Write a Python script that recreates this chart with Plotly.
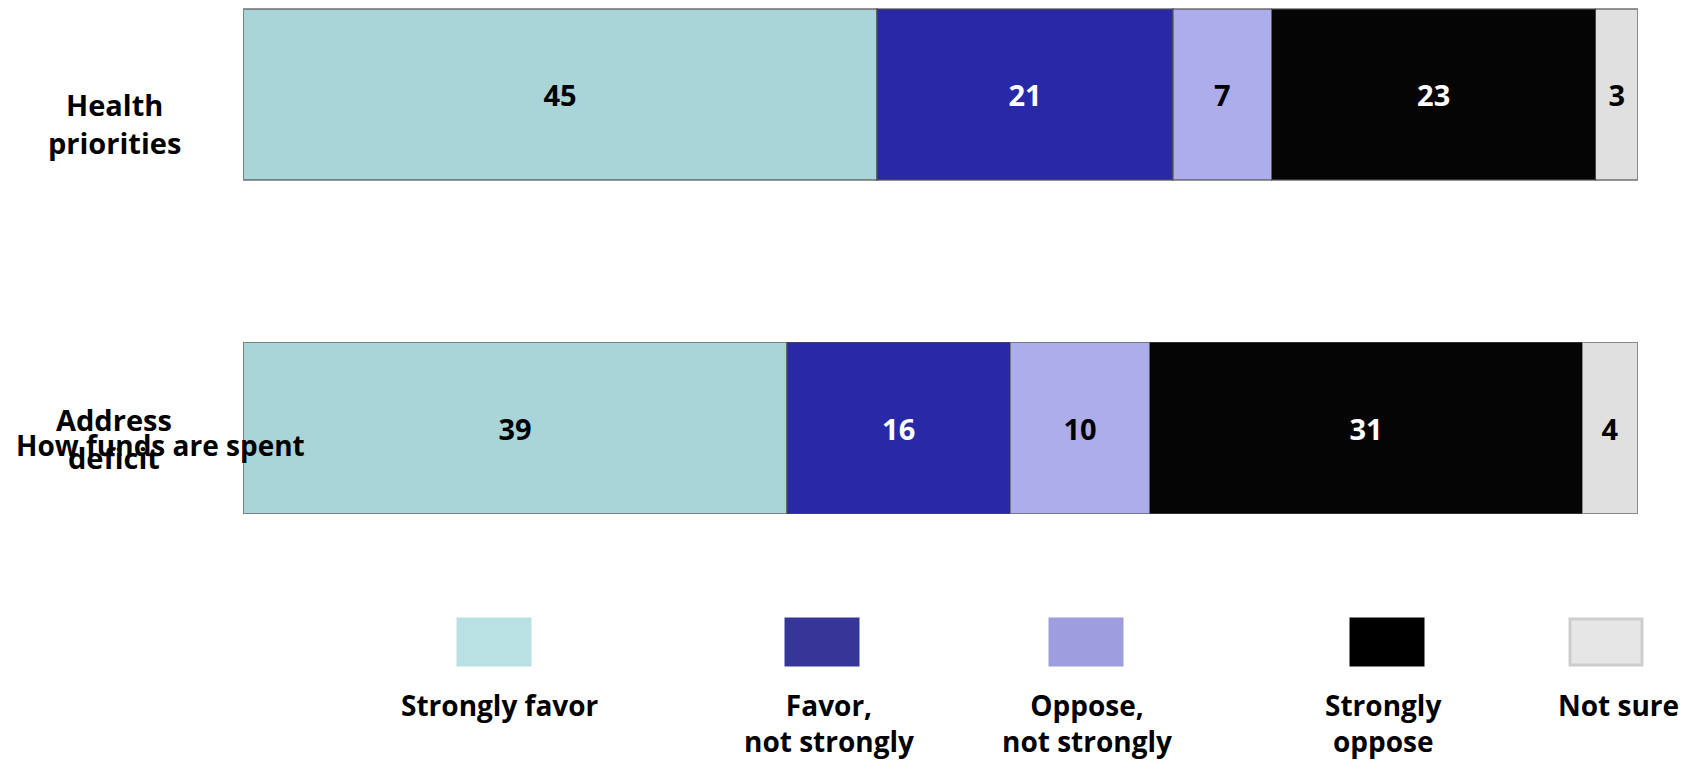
import plotly.graph_objects as go

# ---- data ----
categories = ["Health<br>priorities", "Address<br>deficit"]
series_names = ["Strongly favor", "Favor,<br>not strongly", "Oppose,<br>not strongly",
                "Strongly<br>oppose", "Not sure"]
strongly_favor = [45, 39]
favor_not_strongly = [21, 16]
oppose_not_strongly = [7, 10]
strongly_oppose = [23, 31]
not_sure = [3, 4]
overlay_title = "How funds are spent"

series_values = [strongly_favor, favor_not_strongly, oppose_not_strongly,
                 strongly_oppose, not_sure]

# ---- styles ----
FONT = "Open Sans"
W, H = 1690, 761
L_MARGIN, R_MARGIN = 243, 52
PLOT_W = W - L_MARGIN - R_MARGIN
bar_colors = ["#A9D4D8", "#2929A8", "#ADADEB", "#050505", "#E0E0E0"]
text_colors = ["black", "white", "black", "white", "black"]
swatch_colors = ["#B9E0E2", "#363698", "#9E9EDE", "#000000", "#E6E6E6"]
swatch_lines = ["#B9E0E2", "#363698", "#9E9EDE", "#000000", "#CDCDCD"]
swatch_cx = [494, 822, 1086, 1387, 1606]
label_cx = [500, 829, 1087, 1383, 1618]

fig = go.Figure()
for name, vals, col, tcol in zip(series_names, series_values, bar_colors, text_colors):
    fig.add_trace(go.Bar(
        y=categories, x=vals, name=name.replace("<br>", " "), orientation="h",
        width=0.513,
        marker=dict(color=col, line=dict(color="rgba(80,80,80,0.6)", width=1.2)),
        text=vals, texttemplate="%{text}", textposition="inside",
        insidetextanchor="middle", textangle=0,
        textfont=dict(family=FONT, size=29, color=tcol, weight="bold"),
        showlegend=False,
    ))

def px_to_xpaper(px):
    return (px - L_MARGIN) / PLOT_W

def px_to_ypaper(py):
    return 1 - py / H

annotations = []
cat_offsets = [0.088, 1.03]
for cat, yv in zip(categories, cat_offsets):
    annotations.append(dict(
        text=cat, xref="paper", yref="y", x=px_to_xpaper(114), y=yv,
        xanchor="center", yanchor="middle", align="center", showarrow=False,
        font=dict(family=FONT, size=29, color="black", weight="bold")))
annotations.append(dict(
    text=overlay_title, xref="paper", yref="y", x=px_to_xpaper(160), y=1.051,
    xanchor="center", yanchor="middle", showarrow=False,
    font=dict(family=FONT, size=28, color="black", weight="bold")))

shapes = []
for name, sc, lc, scx, lcx in zip(series_names, swatch_colors, swatch_lines, swatch_cx, label_cx):
    shapes.append(dict(
        type="rect", xref="paper", yref="paper",
        x0=px_to_xpaper(scx - 36), x1=px_to_xpaper(scx + 36),
        y0=px_to_ypaper(619), y1=px_to_ypaper(665),
        fillcolor=sc, line=dict(color=lc, width=3), layer="above"))
    annotations.append(dict(
        text=name, xref="paper", yref="paper", x=px_to_xpaper(lcx),
        y=px_to_ypaper(684), xanchor="center", yanchor="top", align="center",
        showarrow=False,
        font=dict(family=FONT, size=28, color="black", weight="bold")))

px_per_unit = 333.5
center0 = 94.5
y_top = -center0 / px_per_unit
y_bot = (H - center0) / px_per_unit

fig.update_layout(
    barmode="stack", barnorm="percent",
    width=W, height=H,
    margin=dict(l=L_MARGIN, r=R_MARGIN, t=0, b=0, pad=0),
    paper_bgcolor="white", plot_bgcolor="white",
    xaxis=dict(range=[0, 100], visible=False, fixedrange=True),
    yaxis=dict(range=[y_bot, y_top], showticklabels=False, showgrid=False,
               zeroline=False, showline=False, ticks=""),
    annotations=annotations, shapes=shapes,
    font=dict(family=FONT),
)

fig.write_html("out.html",
               config={"displayModeBar": False},
               post_script="document.body.style.margin='0px';document.body.style.overflow='hidden';")
